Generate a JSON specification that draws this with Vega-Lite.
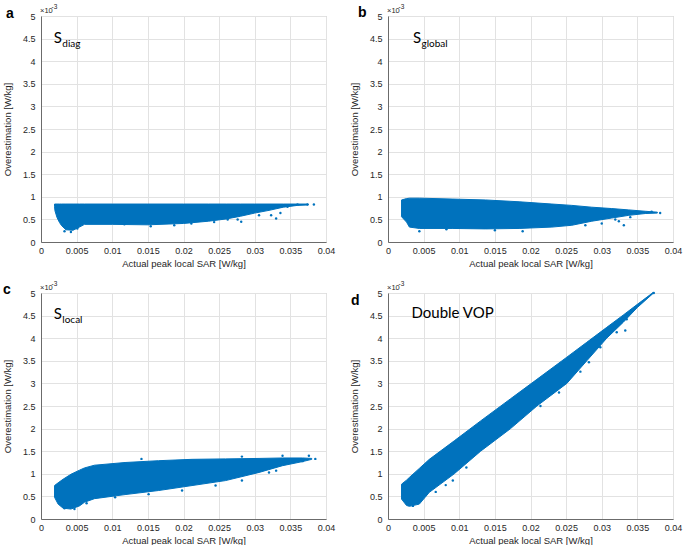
{
  "$schema": "https://vega.github.io/schema/vega-lite/v6.json",
  "padding": {"left": 1, "top": 3, "right": 5, "bottom": 0},
  "background": "white",
  "datasets": {
    "band": [
      {"panel": "a", "x": 0.0019, "lo": 0.78, "hi": 0.84},
      {"panel": "a", "x": 0.00196, "lo": 0.69, "hi": 0.84},
      {"panel": "a", "x": 0.00225, "lo": 0.54, "hi": 0.84},
      {"panel": "a", "x": 0.0026, "lo": 0.43, "hi": 0.84},
      {"panel": "a", "x": 0.0029, "lo": 0.36, "hi": 0.84},
      {"panel": "a", "x": 0.0035, "lo": 0.27, "hi": 0.84},
      {"panel": "a", "x": 0.0045, "lo": 0.26, "hi": 0.84},
      {"panel": "a", "x": 0.0054, "lo": 0.33, "hi": 0.84},
      {"panel": "a", "x": 0.0061, "lo": 0.39, "hi": 0.84},
      {"panel": "a", "x": 0.0100, "lo": 0.39, "hi": 0.84},
      {"panel": "a", "x": 0.0150, "lo": 0.38, "hi": 0.84},
      {"panel": "a", "x": 0.0200, "lo": 0.41, "hi": 0.84},
      {"panel": "a", "x": 0.0235, "lo": 0.46, "hi": 0.84},
      {"panel": "a", "x": 0.0260, "lo": 0.51, "hi": 0.84},
      {"panel": "a", "x": 0.0280, "lo": 0.57, "hi": 0.84},
      {"panel": "a", "x": 0.0300, "lo": 0.64, "hi": 0.84},
      {"panel": "a", "x": 0.0320, "lo": 0.70, "hi": 0.84},
      {"panel": "a", "x": 0.0340, "lo": 0.77, "hi": 0.84},
      {"panel": "a", "x": 0.0360, "lo": 0.81, "hi": 0.84},
      {"panel": "a", "x": 0.0375, "lo": 0.82, "hi": 0.84},
      {"panel": "b", "x": 0.0019, "lo": 0.56, "hi": 0.93},
      {"panel": "b", "x": 0.0026, "lo": 0.44, "hi": 0.96},
      {"panel": "b", "x": 0.0030, "lo": 0.33, "hi": 0.97},
      {"panel": "b", "x": 0.0044, "lo": 0.30, "hi": 0.97},
      {"panel": "b", "x": 0.0090, "lo": 0.30, "hi": 0.95},
      {"panel": "b", "x": 0.0137, "lo": 0.29, "hi": 0.93},
      {"panel": "b", "x": 0.0184, "lo": 0.30, "hi": 0.89},
      {"panel": "b", "x": 0.0230, "lo": 0.33, "hi": 0.84},
      {"panel": "b", "x": 0.0258, "lo": 0.37, "hi": 0.81},
      {"panel": "b", "x": 0.0286, "lo": 0.46, "hi": 0.77},
      {"panel": "b", "x": 0.0314, "lo": 0.53, "hi": 0.74},
      {"panel": "b", "x": 0.0338, "lo": 0.59, "hi": 0.71},
      {"panel": "b", "x": 0.0361, "lo": 0.63, "hi": 0.68},
      {"panel": "b", "x": 0.0378, "lo": 0.64, "hi": 0.66},
      {"panel": "c", "x": 0.0019, "lo": 0.48, "hi": 0.74},
      {"panel": "c", "x": 0.0024, "lo": 0.33, "hi": 0.80},
      {"panel": "c", "x": 0.0031, "lo": 0.24, "hi": 0.88},
      {"panel": "c", "x": 0.0042, "lo": 0.22, "hi": 0.99},
      {"panel": "c", "x": 0.0054, "lo": 0.29, "hi": 1.08},
      {"panel": "c", "x": 0.0061, "lo": 0.37, "hi": 1.13},
      {"panel": "c", "x": 0.0075, "lo": 0.45, "hi": 1.19},
      {"panel": "c", "x": 0.0118, "lo": 0.54, "hi": 1.25},
      {"panel": "c", "x": 0.0165, "lo": 0.63, "hi": 1.29},
      {"panel": "c", "x": 0.0212, "lo": 0.74, "hi": 1.32},
      {"panel": "c", "x": 0.0259, "lo": 0.85, "hi": 1.33},
      {"panel": "c", "x": 0.0306, "lo": 1.03, "hi": 1.34},
      {"panel": "c", "x": 0.0339, "lo": 1.18, "hi": 1.35},
      {"panel": "c", "x": 0.0367, "lo": 1.27, "hi": 1.35},
      {"panel": "c", "x": 0.0380, "lo": 1.32, "hi": 1.34},
      {"panel": "d", "x": 0.0019, "lo": 0.44, "hi": 0.77},
      {"panel": "d", "x": 0.0026, "lo": 0.30, "hi": 0.86},
      {"panel": "d", "x": 0.0030, "lo": 0.28, "hi": 0.92},
      {"panel": "d", "x": 0.0044, "lo": 0.33, "hi": 1.12},
      {"panel": "d", "x": 0.0058, "lo": 0.59, "hi": 1.32},
      {"panel": "d", "x": 0.0093, "lo": 1.00, "hi": 1.73},
      {"panel": "d", "x": 0.0130, "lo": 1.50, "hi": 2.17},
      {"panel": "d", "x": 0.0172, "lo": 2.00, "hi": 2.66},
      {"panel": "d", "x": 0.0209, "lo": 2.50, "hi": 3.09},
      {"panel": "d", "x": 0.0251, "lo": 3.00, "hi": 3.58},
      {"panel": "d", "x": 0.0279, "lo": 3.50, "hi": 3.91},
      {"panel": "d", "x": 0.0307, "lo": 4.00, "hi": 4.24},
      {"panel": "d", "x": 0.0330, "lo": 4.35, "hi": 4.51},
      {"panel": "d", "x": 0.0350, "lo": 4.68, "hi": 4.75},
      {"panel": "d", "x": 0.0372, "lo": 4.99, "hi": 5.01}
    ],
    "pts": [
      {"panel": "a", "x": 0.0306, "y": 0.59}, {"panel": "a", "x": 0.0323, "y": 0.59},
      {"panel": "a", "x": 0.0330, "y": 0.52}, {"panel": "a", "x": 0.0336, "y": 0.64},
      {"panel": "a", "x": 0.0346, "y": 0.78}, {"panel": "a", "x": 0.0360, "y": 0.83},
      {"panel": "a", "x": 0.0374, "y": 0.83}, {"panel": "a", "x": 0.0383, "y": 0.83},
      {"panel": "a", "x": 0.0281, "y": 0.45}, {"panel": "a", "x": 0.0276, "y": 0.50},
      {"panel": "a", "x": 0.0262, "y": 0.50}, {"panel": "a", "x": 0.0243, "y": 0.44},
      {"panel": "a", "x": 0.0211, "y": 0.41}, {"panel": "a", "x": 0.0187, "y": 0.37},
      {"panel": "a", "x": 0.0154, "y": 0.35}, {"panel": "a", "x": 0.0117, "y": 0.39},
      {"panel": "a", "x": 0.0070, "y": 0.44}, {"panel": "a", "x": 0.0051, "y": 0.30},
      {"panel": "a", "x": 0.0042, "y": 0.22}, {"panel": "a", "x": 0.0033, "y": 0.24},
      {"panel": "b", "x": 0.0331, "y": 0.37}, {"panel": "b", "x": 0.0324, "y": 0.46},
      {"panel": "b", "x": 0.0319, "y": 0.50}, {"panel": "b", "x": 0.0340, "y": 0.55},
      {"panel": "b", "x": 0.0382, "y": 0.64}, {"panel": "b", "x": 0.0370, "y": 0.67},
      {"panel": "b", "x": 0.0300, "y": 0.41}, {"panel": "b", "x": 0.0277, "y": 0.37},
      {"panel": "b", "x": 0.0189, "y": 0.24}, {"panel": "b", "x": 0.0082, "y": 0.28},
      {"panel": "b", "x": 0.0044, "y": 0.24}, {"panel": "b", "x": 0.0150, "y": 0.26},
      {"panel": "c", "x": 0.0376, "y": 1.40}, {"panel": "c", "x": 0.0385, "y": 1.33},
      {"panel": "c", "x": 0.0367, "y": 1.28}, {"panel": "c", "x": 0.0330, "y": 1.07},
      {"panel": "c", "x": 0.0320, "y": 1.03}, {"panel": "c", "x": 0.0282, "y": 0.85},
      {"panel": "c", "x": 0.0245, "y": 0.74}, {"panel": "c", "x": 0.0198, "y": 0.63},
      {"panel": "c", "x": 0.0151, "y": 0.55}, {"panel": "c", "x": 0.0104, "y": 0.48},
      {"panel": "c", "x": 0.0064, "y": 0.35}, {"panel": "c", "x": 0.0047, "y": 0.22},
      {"panel": "c", "x": 0.0033, "y": 0.24}, {"panel": "c", "x": 0.0339, "y": 1.40},
      {"panel": "c", "x": 0.0282, "y": 1.38}, {"panel": "c", "x": 0.0141, "y": 1.33},
      {"panel": "d", "x": 0.00465, "y": 0.44}, {"panel": "d", "x": 0.0053, "y": 0.53},
      {"panel": "d", "x": 0.0067, "y": 0.60}, {"panel": "d", "x": 0.0081, "y": 0.75},
      {"panel": "d", "x": 0.0091, "y": 0.85}, {"panel": "d", "x": 0.0110, "y": 1.14},
      {"panel": "d", "x": 0.0035, "y": 0.29}, {"panel": "d", "x": 0.0214, "y": 2.50},
      {"panel": "d", "x": 0.0240, "y": 2.80}, {"panel": "d", "x": 0.0270, "y": 3.26},
      {"panel": "d", "x": 0.0282, "y": 3.47}, {"panel": "d", "x": 0.0298, "y": 3.80},
      {"panel": "d", "x": 0.0321, "y": 4.13}, {"panel": "d", "x": 0.0333, "y": 4.17},
      {"panel": "d", "x": 0.0335, "y": 4.42}, {"panel": "d", "x": 0.0373, "y": 5.0}
    ],
    "labels": [
      {"panel": "a", "letter": "a", "main": "S", "sub": "diag", "lx": 0.0018, "ly": 4.4},
      {"panel": "b", "letter": "b", "main": "S", "sub": "global", "lx": 0.0035, "ly": 4.4},
      {"panel": "c", "letter": "c", "main": "S", "sub": "local", "lx": 0.0018, "ly": 4.43},
      {"panel": "d", "letter": "d", "main": "Double VOP", "sub": "", "lx": 0.0033, "ly": 4.45}
    ]
  },
  "columns": 2,
  "bounds": "flush",
  "spacing": {"row": 51, "column": 62},
  "concat": [
    {
      "width": 285, "height": 226,
      "layer": [
        {"data": {"name": "band"}, "transform": [{"filter": "datum.panel === 'a'"}],
         "mark": {"type": "area", "color": "#0072BD", "opacity": 1, "stroke": "#0072BD", "strokeWidth": 1},
         "encoding": {"x": {"field": "x", "type": "quantitative", "scale": {"domain": [0, 0.04], "nice": false, "zero": false}, "axis": {"values": [0, 0.005, 0.01, 0.015, 0.02, 0.025, 0.03, 0.035, 0.04], "format": "~g", "title": "Actual peak local SAR [W/kg]"}}, "y": {"field": "lo", "type": "quantitative", "scale": {"domain": [0, 5], "nice": false}, "axis": {"values": [0, 0.5, 1, 1.5, 2, 2.5, 3, 3.5, 4, 4.5, 5], "format": "~g", "title": "Overestimation [W/kg]"}}, "y2": {"field": "hi"}}},
        {"data": {"name": "pts"}, "transform": [{"filter": "datum.panel === 'a'"}],
         "mark": {"type": "circle", "size": 6, "color": "#0072BD", "opacity": 1},
         "encoding": {"x": {"field": "x", "type": "quantitative", "scale": {"domain": [0, 0.04], "nice": false, "zero": false}, "axis": {"values": [0, 0.005, 0.01, 0.015, 0.02, 0.025, 0.03, 0.035, 0.04], "format": "~g", "title": "Actual peak local SAR [W/kg]"}}, "y": {"field": "y", "type": "quantitative", "scale": {"domain": [0, 5], "nice": false}, "axis": {"values": [0, 0.5, 1, 1.5, 2, 2.5, 3, 3.5, 4, 4.5, 5], "format": "~g", "title": "Overestimation [W/kg]"}}}},
        {"data": {"name": "labels"}, "transform": [{"filter": "datum.panel === 'a'"}],
         "mark": {"type": "text", "font": "Lato", "fontSize": 15, "align": "left", "baseline": "alphabetic", "color": "#000"},
         "encoding": {"x": {"field": "lx", "type": "quantitative", "scale": {"domain": [0, 0.04], "nice": false, "zero": false}, "axis": {"values": [0, 0.005, 0.01, 0.015, 0.02, 0.025, 0.03, 0.035, 0.04], "format": "~g", "title": "Actual peak local SAR [W/kg]"}}, "y": {"field": "ly", "type": "quantitative", "scale": {"domain": [0, 5], "nice": false}, "axis": {"values": [0, 0.5, 1, 1.5, 2, 2.5, 3, 3.5, 4, 4.5, 5], "format": "~g", "title": "Overestimation [W/kg]"}}, "text": {"field": "main"}}},
        {"data": {"name": "labels"}, "transform": [{"filter": "datum.panel === 'a'"}],
         "mark": {"type": "text", "font": "Lato", "fontSize": 10, "align": "left", "baseline": "alphabetic", "dx": 8.5, "dy": 4, "color": "#000"},
         "encoding": {"x": {"field": "lx", "type": "quantitative", "scale": {"domain": [0, 0.04], "nice": false, "zero": false}, "axis": {"values": [0, 0.005, 0.01, 0.015, 0.02, 0.025, 0.03, 0.035, 0.04], "format": "~g", "title": "Actual peak local SAR [W/kg]"}}, "y": {"field": "ly", "type": "quantitative", "scale": {"domain": [0, 5], "nice": false}, "axis": {"values": [0, 0.5, 1, 1.5, 2, 2.5, 3, 3.5, 4, 4.5, 5], "format": "~g", "title": "Overestimation [W/kg]"}}, "text": {"field": "sub"}}},
        {"data": {"name": "labels"}, "transform": [{"filter": "datum.panel === 'a'"}],
         "mark": {"type": "text", "font": "Liberation Sans", "fontSize": 14, "fontWeight": "bold", "align": "left", "baseline": "alphabetic", "dx": -35, "dy": 2, "color": "#000"},
         "encoding": {"x": {"datum": 0, "type": "quantitative", "scale": {"domain": [0, 0.04], "nice": false, "zero": false}, "axis": {"values": [0, 0.005, 0.01, 0.015, 0.02, 0.025, 0.03, 0.035, 0.04], "format": "~g", "title": "Actual peak local SAR [W/kg]"}}, "y": {"datum": 5, "type": "quantitative", "scale": {"domain": [0, 5], "nice": false}, "axis": {"values": [0, 0.5, 1, 1.5, 2, 2.5, 3, 3.5, 4, 4.5, 5], "format": "~g", "title": "Overestimation [W/kg]"}}, "text": {"field": "letter"}}},
        {"data": {"name": "labels"}, "transform": [{"filter": "datum.panel === 'a'"}],
         "mark": {"type": "text", "font": "Liberation Sans", "fontSize": 7.5, "align": "left", "baseline": "alphabetic", "dx": -1, "dy": -3, "color": "#262626", "text": "×10"},
         "encoding": {"x": {"datum": 0, "type": "quantitative", "scale": {"domain": [0, 0.04], "nice": false, "zero": false}, "axis": {"values": [0, 0.005, 0.01, 0.015, 0.02, 0.025, 0.03, 0.035, 0.04], "format": "~g", "title": "Actual peak local SAR [W/kg]"}}, "y": {"datum": 5, "type": "quantitative", "scale": {"domain": [0, 5], "nice": false}, "axis": {"values": [0, 0.5, 1, 1.5, 2, 2.5, 3, 3.5, 4, 4.5, 5], "format": "~g", "title": "Overestimation [W/kg]"}}}},
        {"data": {"name": "labels"}, "transform": [{"filter": "datum.panel === 'a'"}],
         "mark": {"type": "text", "font": "Liberation Sans", "fontSize": 6.5, "align": "left", "baseline": "alphabetic", "dx": 10.5, "dy": -7, "color": "#262626", "text": "-3"},
         "encoding": {"x": {"datum": 0, "type": "quantitative", "scale": {"domain": [0, 0.04], "nice": false, "zero": false}, "axis": {"values": [0, 0.005, 0.01, 0.015, 0.02, 0.025, 0.03, 0.035, 0.04], "format": "~g", "title": "Actual peak local SAR [W/kg]"}}, "y": {"datum": 5, "type": "quantitative", "scale": {"domain": [0, 5], "nice": false}, "axis": {"values": [0, 0.5, 1, 1.5, 2, 2.5, 3, 3.5, 4, 4.5, 5], "format": "~g", "title": "Overestimation [W/kg]"}}}}
      ]
    },
    {
      "width": 285, "height": 226,
      "layer": [
        {"data": {"name": "band"}, "transform": [{"filter": "datum.panel === 'b'"}],
         "mark": {"type": "area", "color": "#0072BD", "opacity": 1, "stroke": "#0072BD", "strokeWidth": 1},
         "encoding": {"x": {"field": "x", "type": "quantitative", "scale": {"domain": [0, 0.04], "nice": false, "zero": false}, "axis": {"values": [0, 0.005, 0.01, 0.015, 0.02, 0.025, 0.03, 0.035, 0.04], "format": "~g", "title": "Actual peak local SAR [W/kg]"}}, "y": {"field": "lo", "type": "quantitative", "scale": {"domain": [0, 5], "nice": false}, "axis": {"values": [0, 0.5, 1, 1.5, 2, 2.5, 3, 3.5, 4, 4.5, 5], "format": "~g", "title": "Overestimation [W/kg]"}}, "y2": {"field": "hi"}}},
        {"data": {"name": "pts"}, "transform": [{"filter": "datum.panel === 'b'"}],
         "mark": {"type": "circle", "size": 6, "color": "#0072BD", "opacity": 1},
         "encoding": {"x": {"field": "x", "type": "quantitative", "scale": {"domain": [0, 0.04], "nice": false, "zero": false}, "axis": {"values": [0, 0.005, 0.01, 0.015, 0.02, 0.025, 0.03, 0.035, 0.04], "format": "~g", "title": "Actual peak local SAR [W/kg]"}}, "y": {"field": "y", "type": "quantitative", "scale": {"domain": [0, 5], "nice": false}, "axis": {"values": [0, 0.5, 1, 1.5, 2, 2.5, 3, 3.5, 4, 4.5, 5], "format": "~g", "title": "Overestimation [W/kg]"}}}},
        {"data": {"name": "labels"}, "transform": [{"filter": "datum.panel === 'b'"}],
         "mark": {"type": "text", "font": "Lato", "fontSize": 15, "align": "left", "baseline": "alphabetic", "color": "#000"},
         "encoding": {"x": {"field": "lx", "type": "quantitative", "scale": {"domain": [0, 0.04], "nice": false, "zero": false}, "axis": {"values": [0, 0.005, 0.01, 0.015, 0.02, 0.025, 0.03, 0.035, 0.04], "format": "~g", "title": "Actual peak local SAR [W/kg]"}}, "y": {"field": "ly", "type": "quantitative", "scale": {"domain": [0, 5], "nice": false}, "axis": {"values": [0, 0.5, 1, 1.5, 2, 2.5, 3, 3.5, 4, 4.5, 5], "format": "~g", "title": "Overestimation [W/kg]"}}, "text": {"field": "main"}}},
        {"data": {"name": "labels"}, "transform": [{"filter": "datum.panel === 'b'"}],
         "mark": {"type": "text", "font": "Lato", "fontSize": 10, "align": "left", "baseline": "alphabetic", "dx": 8.5, "dy": 4, "color": "#000"},
         "encoding": {"x": {"field": "lx", "type": "quantitative", "scale": {"domain": [0, 0.04], "nice": false, "zero": false}, "axis": {"values": [0, 0.005, 0.01, 0.015, 0.02, 0.025, 0.03, 0.035, 0.04], "format": "~g", "title": "Actual peak local SAR [W/kg]"}}, "y": {"field": "ly", "type": "quantitative", "scale": {"domain": [0, 5], "nice": false}, "axis": {"values": [0, 0.5, 1, 1.5, 2, 2.5, 3, 3.5, 4, 4.5, 5], "format": "~g", "title": "Overestimation [W/kg]"}}, "text": {"field": "sub"}}},
        {"data": {"name": "labels"}, "transform": [{"filter": "datum.panel === 'b'"}],
         "mark": {"type": "text", "font": "Liberation Sans", "fontSize": 14, "fontWeight": "bold", "align": "left", "baseline": "alphabetic", "dx": -30, "dy": 1, "color": "#000"},
         "encoding": {"x": {"datum": 0, "type": "quantitative", "scale": {"domain": [0, 0.04], "nice": false, "zero": false}, "axis": {"values": [0, 0.005, 0.01, 0.015, 0.02, 0.025, 0.03, 0.035, 0.04], "format": "~g", "title": "Actual peak local SAR [W/kg]"}}, "y": {"datum": 5, "type": "quantitative", "scale": {"domain": [0, 5], "nice": false}, "axis": {"values": [0, 0.5, 1, 1.5, 2, 2.5, 3, 3.5, 4, 4.5, 5], "format": "~g", "title": "Overestimation [W/kg]"}}, "text": {"field": "letter"}}},
        {"data": {"name": "labels"}, "transform": [{"filter": "datum.panel === 'b'"}],
         "mark": {"type": "text", "font": "Liberation Sans", "fontSize": 7.5, "align": "left", "baseline": "alphabetic", "dx": -1, "dy": -3, "color": "#262626", "text": "×10"},
         "encoding": {"x": {"datum": 0, "type": "quantitative", "scale": {"domain": [0, 0.04], "nice": false, "zero": false}, "axis": {"values": [0, 0.005, 0.01, 0.015, 0.02, 0.025, 0.03, 0.035, 0.04], "format": "~g", "title": "Actual peak local SAR [W/kg]"}}, "y": {"datum": 5, "type": "quantitative", "scale": {"domain": [0, 5], "nice": false}, "axis": {"values": [0, 0.5, 1, 1.5, 2, 2.5, 3, 3.5, 4, 4.5, 5], "format": "~g", "title": "Overestimation [W/kg]"}}}},
        {"data": {"name": "labels"}, "transform": [{"filter": "datum.panel === 'b'"}],
         "mark": {"type": "text", "font": "Liberation Sans", "fontSize": 6.5, "align": "left", "baseline": "alphabetic", "dx": 10.5, "dy": -7, "color": "#262626", "text": "-3"},
         "encoding": {"x": {"datum": 0, "type": "quantitative", "scale": {"domain": [0, 0.04], "nice": false, "zero": false}, "axis": {"values": [0, 0.005, 0.01, 0.015, 0.02, 0.025, 0.03, 0.035, 0.04], "format": "~g", "title": "Actual peak local SAR [W/kg]"}}, "y": {"datum": 5, "type": "quantitative", "scale": {"domain": [0, 5], "nice": false}, "axis": {"values": [0, 0.5, 1, 1.5, 2, 2.5, 3, 3.5, 4, 4.5, 5], "format": "~g", "title": "Overestimation [W/kg]"}}}}
      ]
    },
    {
      "width": 285, "height": 226,
      "layer": [
        {"data": {"name": "band"}, "transform": [{"filter": "datum.panel === 'c'"}],
         "mark": {"type": "area", "color": "#0072BD", "opacity": 1, "stroke": "#0072BD", "strokeWidth": 1},
         "encoding": {"x": {"field": "x", "type": "quantitative", "scale": {"domain": [0, 0.04], "nice": false, "zero": false}, "axis": {"values": [0, 0.005, 0.01, 0.015, 0.02, 0.025, 0.03, 0.035, 0.04], "format": "~g", "title": "Actual peak local SAR [W/kg]"}}, "y": {"field": "lo", "type": "quantitative", "scale": {"domain": [0, 5], "nice": false}, "axis": {"values": [0, 0.5, 1, 1.5, 2, 2.5, 3, 3.5, 4, 4.5, 5], "format": "~g", "title": "Overestimation [W/kg]"}}, "y2": {"field": "hi"}}},
        {"data": {"name": "pts"}, "transform": [{"filter": "datum.panel === 'c'"}],
         "mark": {"type": "circle", "size": 6, "color": "#0072BD", "opacity": 1},
         "encoding": {"x": {"field": "x", "type": "quantitative", "scale": {"domain": [0, 0.04], "nice": false, "zero": false}, "axis": {"values": [0, 0.005, 0.01, 0.015, 0.02, 0.025, 0.03, 0.035, 0.04], "format": "~g", "title": "Actual peak local SAR [W/kg]"}}, "y": {"field": "y", "type": "quantitative", "scale": {"domain": [0, 5], "nice": false}, "axis": {"values": [0, 0.5, 1, 1.5, 2, 2.5, 3, 3.5, 4, 4.5, 5], "format": "~g", "title": "Overestimation [W/kg]"}}}},
        {"data": {"name": "labels"}, "transform": [{"filter": "datum.panel === 'c'"}],
         "mark": {"type": "text", "font": "Lato", "fontSize": 15, "align": "left", "baseline": "alphabetic", "color": "#000"},
         "encoding": {"x": {"field": "lx", "type": "quantitative", "scale": {"domain": [0, 0.04], "nice": false, "zero": false}, "axis": {"values": [0, 0.005, 0.01, 0.015, 0.02, 0.025, 0.03, 0.035, 0.04], "format": "~g", "title": "Actual peak local SAR [W/kg]"}}, "y": {"field": "ly", "type": "quantitative", "scale": {"domain": [0, 5], "nice": false}, "axis": {"values": [0, 0.5, 1, 1.5, 2, 2.5, 3, 3.5, 4, 4.5, 5], "format": "~g", "title": "Overestimation [W/kg]"}}, "text": {"field": "main"}}},
        {"data": {"name": "labels"}, "transform": [{"filter": "datum.panel === 'c'"}],
         "mark": {"type": "text", "font": "Lato", "fontSize": 10, "align": "left", "baseline": "alphabetic", "dx": 8.5, "dy": 4, "color": "#000"},
         "encoding": {"x": {"field": "lx", "type": "quantitative", "scale": {"domain": [0, 0.04], "nice": false, "zero": false}, "axis": {"values": [0, 0.005, 0.01, 0.015, 0.02, 0.025, 0.03, 0.035, 0.04], "format": "~g", "title": "Actual peak local SAR [W/kg]"}}, "y": {"field": "ly", "type": "quantitative", "scale": {"domain": [0, 5], "nice": false}, "axis": {"values": [0, 0.5, 1, 1.5, 2, 2.5, 3, 3.5, 4, 4.5, 5], "format": "~g", "title": "Overestimation [W/kg]"}}, "text": {"field": "sub"}}},
        {"data": {"name": "labels"}, "transform": [{"filter": "datum.panel === 'c'"}],
         "mark": {"type": "text", "font": "Liberation Sans", "fontSize": 14, "fontWeight": "bold", "align": "left", "baseline": "alphabetic", "dx": -38, "dy": 1, "color": "#000"},
         "encoding": {"x": {"datum": 0, "type": "quantitative", "scale": {"domain": [0, 0.04], "nice": false, "zero": false}, "axis": {"values": [0, 0.005, 0.01, 0.015, 0.02, 0.025, 0.03, 0.035, 0.04], "format": "~g", "title": "Actual peak local SAR [W/kg]"}}, "y": {"datum": 5, "type": "quantitative", "scale": {"domain": [0, 5], "nice": false}, "axis": {"values": [0, 0.5, 1, 1.5, 2, 2.5, 3, 3.5, 4, 4.5, 5], "format": "~g", "title": "Overestimation [W/kg]"}}, "text": {"field": "letter"}}},
        {"data": {"name": "labels"}, "transform": [{"filter": "datum.panel === 'c'"}],
         "mark": {"type": "text", "font": "Liberation Sans", "fontSize": 7.5, "align": "left", "baseline": "alphabetic", "dx": -1, "dy": -3, "color": "#262626", "text": "×10"},
         "encoding": {"x": {"datum": 0, "type": "quantitative", "scale": {"domain": [0, 0.04], "nice": false, "zero": false}, "axis": {"values": [0, 0.005, 0.01, 0.015, 0.02, 0.025, 0.03, 0.035, 0.04], "format": "~g", "title": "Actual peak local SAR [W/kg]"}}, "y": {"datum": 5, "type": "quantitative", "scale": {"domain": [0, 5], "nice": false}, "axis": {"values": [0, 0.5, 1, 1.5, 2, 2.5, 3, 3.5, 4, 4.5, 5], "format": "~g", "title": "Overestimation [W/kg]"}}}},
        {"data": {"name": "labels"}, "transform": [{"filter": "datum.panel === 'c'"}],
         "mark": {"type": "text", "font": "Liberation Sans", "fontSize": 6.5, "align": "left", "baseline": "alphabetic", "dx": 10.5, "dy": -7, "color": "#262626", "text": "-3"},
         "encoding": {"x": {"datum": 0, "type": "quantitative", "scale": {"domain": [0, 0.04], "nice": false, "zero": false}, "axis": {"values": [0, 0.005, 0.01, 0.015, 0.02, 0.025, 0.03, 0.035, 0.04], "format": "~g", "title": "Actual peak local SAR [W/kg]"}}, "y": {"datum": 5, "type": "quantitative", "scale": {"domain": [0, 5], "nice": false}, "axis": {"values": [0, 0.5, 1, 1.5, 2, 2.5, 3, 3.5, 4, 4.5, 5], "format": "~g", "title": "Overestimation [W/kg]"}}}}
      ]
    },
    {
      "width": 285, "height": 226,
      "layer": [
        {"data": {"name": "band"}, "transform": [{"filter": "datum.panel === 'd'"}],
         "mark": {"type": "area", "color": "#0072BD", "opacity": 1, "stroke": "#0072BD", "strokeWidth": 1},
         "encoding": {"x": {"field": "x", "type": "quantitative", "scale": {"domain": [0, 0.04], "nice": false, "zero": false}, "axis": {"values": [0, 0.005, 0.01, 0.015, 0.02, 0.025, 0.03, 0.035, 0.04], "format": "~g", "title": "Actual peak local SAR [W/kg]"}}, "y": {"field": "lo", "type": "quantitative", "scale": {"domain": [0, 5], "nice": false}, "axis": {"values": [0, 0.5, 1, 1.5, 2, 2.5, 3, 3.5, 4, 4.5, 5], "format": "~g", "title": "Overestimation [W/kg]"}}, "y2": {"field": "hi"}}},
        {"data": {"name": "pts"}, "transform": [{"filter": "datum.panel === 'd'"}],
         "mark": {"type": "circle", "size": 6, "color": "#0072BD", "opacity": 1},
         "encoding": {"x": {"field": "x", "type": "quantitative", "scale": {"domain": [0, 0.04], "nice": false, "zero": false}, "axis": {"values": [0, 0.005, 0.01, 0.015, 0.02, 0.025, 0.03, 0.035, 0.04], "format": "~g", "title": "Actual peak local SAR [W/kg]"}}, "y": {"field": "y", "type": "quantitative", "scale": {"domain": [0, 5], "nice": false}, "axis": {"values": [0, 0.5, 1, 1.5, 2, 2.5, 3, 3.5, 4, 4.5, 5], "format": "~g", "title": "Overestimation [W/kg]"}}}},
        {"data": {"name": "labels"}, "transform": [{"filter": "datum.panel === 'd'"}],
         "mark": {"type": "text", "font": "Lato", "fontSize": 15, "align": "left", "baseline": "alphabetic", "color": "#000"},
         "encoding": {"x": {"field": "lx", "type": "quantitative", "scale": {"domain": [0, 0.04], "nice": false, "zero": false}, "axis": {"values": [0, 0.005, 0.01, 0.015, 0.02, 0.025, 0.03, 0.035, 0.04], "format": "~g", "title": "Actual peak local SAR [W/kg]"}}, "y": {"field": "ly", "type": "quantitative", "scale": {"domain": [0, 5], "nice": false}, "axis": {"values": [0, 0.5, 1, 1.5, 2, 2.5, 3, 3.5, 4, 4.5, 5], "format": "~g", "title": "Overestimation [W/kg]"}}, "text": {"field": "main"}}},
        {"data": {"name": "labels"}, "transform": [{"filter": "datum.panel === 'd'"}],
         "mark": {"type": "text", "font": "Liberation Sans", "fontSize": 14, "fontWeight": "bold", "align": "left", "baseline": "alphabetic", "dx": -37, "dy": 12, "color": "#000"},
         "encoding": {"x": {"datum": 0, "type": "quantitative", "scale": {"domain": [0, 0.04], "nice": false, "zero": false}, "axis": {"values": [0, 0.005, 0.01, 0.015, 0.02, 0.025, 0.03, 0.035, 0.04], "format": "~g", "title": "Actual peak local SAR [W/kg]"}}, "y": {"datum": 5, "type": "quantitative", "scale": {"domain": [0, 5], "nice": false}, "axis": {"values": [0, 0.5, 1, 1.5, 2, 2.5, 3, 3.5, 4, 4.5, 5], "format": "~g", "title": "Overestimation [W/kg]"}}, "text": {"field": "letter"}}},
        {"data": {"name": "labels"}, "transform": [{"filter": "datum.panel === 'd'"}],
         "mark": {"type": "text", "font": "Liberation Sans", "fontSize": 7.5, "align": "left", "baseline": "alphabetic", "dx": -1, "dy": -3, "color": "#262626", "text": "×10"},
         "encoding": {"x": {"datum": 0, "type": "quantitative", "scale": {"domain": [0, 0.04], "nice": false, "zero": false}, "axis": {"values": [0, 0.005, 0.01, 0.015, 0.02, 0.025, 0.03, 0.035, 0.04], "format": "~g", "title": "Actual peak local SAR [W/kg]"}}, "y": {"datum": 5, "type": "quantitative", "scale": {"domain": [0, 5], "nice": false}, "axis": {"values": [0, 0.5, 1, 1.5, 2, 2.5, 3, 3.5, 4, 4.5, 5], "format": "~g", "title": "Overestimation [W/kg]"}}}},
        {"data": {"name": "labels"}, "transform": [{"filter": "datum.panel === 'd'"}],
         "mark": {"type": "text", "font": "Liberation Sans", "fontSize": 6.5, "align": "left", "baseline": "alphabetic", "dx": 10.5, "dy": -7, "color": "#262626", "text": "-3"},
         "encoding": {"x": {"datum": 0, "type": "quantitative", "scale": {"domain": [0, 0.04], "nice": false, "zero": false}, "axis": {"values": [0, 0.005, 0.01, 0.015, 0.02, 0.025, 0.03, 0.035, 0.04], "format": "~g", "title": "Actual peak local SAR [W/kg]"}}, "y": {"datum": 5, "type": "quantitative", "scale": {"domain": [0, 5], "nice": false}, "axis": {"values": [0, 0.5, 1, 1.5, 2, 2.5, 3, 3.5, 4, 4.5, 5], "format": "~g", "title": "Overestimation [W/kg]"}}}}
      ]
    }
  ],
  "config": {
    "view": {"stroke": "#bdbdbd", "strokeWidth": 1},
    "axis": {
      "grid": true, "gridColor": "#e2e2e2", "gridWidth": 1,
      "ticks": false, "tickSize": 0,
      "domainColor": "#6b6b6b", "domainWidth": 1,
      "labelFont": "Liberation Sans", "labelFontSize": 9, "labelColor": "#262626",
      "labelPadding": 6, "labelFlush": false, "labelOverlap": false,
      "titleFont": "Liberation Sans", "titleFontSize": 9.5, "titleFontWeight": "normal", "titleColor": "#262626"
    },
    "axisX": {"titlePadding": 3, "labelPadding": 4},
    "axisY": {"titlePadding": 10}
  }
}
